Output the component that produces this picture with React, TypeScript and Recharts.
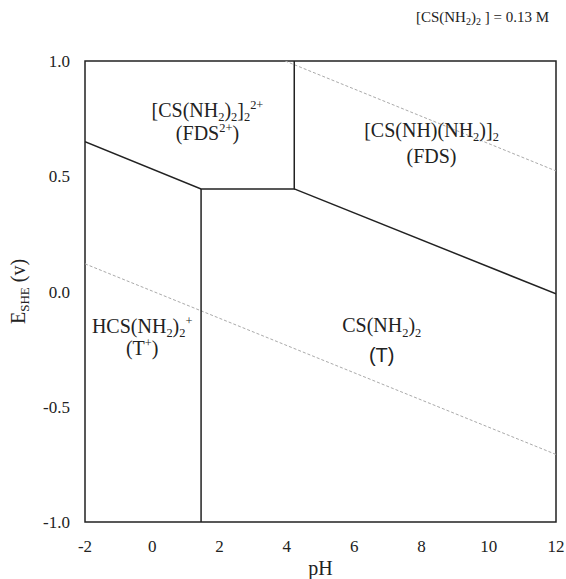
import React from "react";
import {
    LineChart,
    Line,
    XAxis,
    YAxis,
    ReferenceArea,
    ReferenceDot,
} from "recharts";

// Pourbaix (E-pH) diagram of thiourea, [CS(NH2)2] = 0.13 M

const PH_TICKS = [-2, 0, 2, 4, 6, 8, 10, 12];
const E_TICKS = [-1.0, -0.5, 0.0, 0.5, 1.0];

// solid boundaries (pH, E)
const FDS2_UPPER = [
    { x: -2, y: 0.65 },
    { x: 1.45, y: 0.445 },
    { x: 4.22, y: 0.445 },
    { x: 4.22, y: 1.0 },
];
const T_PLUS_T = [
    { x: 1.45, y: 0.445 },
    { x: 1.45, y: -1.0 },
];
const FDS_T = [
    { x: 4.22, y: 0.445 },
    { x: 12, y: -0.01 },
];

// water stability lines (dotted)
const O2_LINE = [
    { x: 3.95, y: 1.0 },
    { x: 12, y: 0.523 },
];
const H2_LINE = [
    { x: -2, y: 0.12 },
    { x: 12, y: -0.707 },
];

type Part = [string, "n" | "sub" | "sup"];

// region labels: anchor in pH / E (baseline of each line)
const REGION_LABELS: { x: number; y: number; parts: Part[]; sans?: boolean }[] = [
    { x: 1.64, y: 0.757, parts: [["[CS(NH", "n"], ["2", "sub"], [")", "n"], ["2", "sub"], ["]", "n"], ["2", "sub"], ["2+", "sup"]] },
    { x: 1.64, y: 0.656, parts: [["(FDS", "n"], ["2+", "sup"], [")", "n"]] },
    { x: 8.3, y: 0.67, parts: [["[CS(NH)(NH", "n"], ["2", "sub"], [")]", "n"], ["2", "sub"]] },
    { x: 8.3, y: 0.556, parts: [["(FDS)", "n"]] },
    { x: -0.3, y: -0.18, parts: [["HCS(NH", "n"], ["2", "sub"], [")", "n"], ["2", "sub"], ["+", "sup"]] },
    { x: -0.3, y: -0.277, parts: [["(T", "n"], ["+", "sup"], [")", "n"]] },
    { x: 6.82, y: -0.177, parts: [["CS(NH", "n"], ["2", "sub"], [")", "n"], ["2", "sub"]] },
    { x: 6.82, y: -0.306, parts: [["(T)", "n"]], sans: true },
];

const SERIF = "'Liberation Serif', 'Times New Roman', serif";
const SANS = "'Liberation Sans', Arial, sans-serif";
const INK = "#222";

function ChemText({ cx, cy, parts, fontSize, sans }: any) {
    let offset = 0;
    const family = sans ? SANS : SERIF;
    return (
        <text
            x={cx}
            y={cy}
            textAnchor="middle"
            fontFamily={family}
            style={{ fontFamily: family }}
            fontSize={fontSize}
            fill={INK}
        >
            {parts.map(([t, kind]: Part, i: number) => {
                const target = kind === "sub" ? fontSize * 0.22 : kind === "sup" ? -fontSize * 0.42 : 0;
                const dy = target - offset;
                offset = target;
                return (
                    <tspan key={i} dy={dy} fontSize={kind === "n" ? fontSize : fontSize * 0.62}>
                        {t}
                    </tspan>
                );
            })}
        </text>
    );
}

function PhTitle(props: any) {
    const vb = props.viewBox || {};
    return (
        <text
            x={vb.x + vb.width / 2}
            y={575}
            textAnchor="middle"
            style={{ fontFamily: SERIF }}
            fontSize={20}
            fill={INK}
        >
            pH
        </text>
    );
}

function ETitle(props: any) {
    const vb = props.viewBox || {};
    const cy = vb.y + vb.height / 2;
    return (
        <text
            x={25}
            y={cy}
            transform={`rotate(-90, 25, ${cy})`}
            textAnchor="middle"
            style={{ fontFamily: SERIF }}
            fontSize={20}
            fill={INK}
        >
            <tspan>E</tspan>
            <tspan fontSize={13} dy={4}>SHE</tspan>
            <tspan dy={-4}> (v)</tspan>
        </text>
    );
}

export default function App() {
    return (
        <div style={{ position: "absolute", left: 0, top: 0, width: 566, height: 579, background: "#fff", fontFamily: SERIF }}>
            <div
                style={{
                    position: "absolute",
                    right: 17,
                    top: 9,
                    fontFamily: SERIF,
                    fontSize: 15,
                    lineHeight: "16px",
                    color: INK,
                    whiteSpace: "nowrap",
                }}
            >
                [CS(NH<span style={{ fontSize: 10, position: "relative", top: 3 }}>2</span>)
                <span style={{ fontSize: 10, position: "relative", top: 3 }}>2</span> ] = 0.13 M
            </div>
            <LineChart
                width={566}
                height={579}
                margin={{ top: 61, right: 10, left: 0, bottom: 0 }}
                style={{ fontFamily: SERIF }}
            >
                <XAxis
                    type="number"
                    dataKey="x"
                    domain={[-2, 12]}
                    ticks={PH_TICKS}
                    allowDataOverflow
                    axisLine={false}
                    tickLine={false}
                    tickSize={0}
                    tickMargin={18}
                    height={57}
                    tick={{ fill: INK, fontSize: 17, fontFamily: SERIF, style: { fontFamily: SERIF } }}
                    label={{ content: PhTitle }}
                />
                <YAxis
                    type="number"
                    dataKey="y"
                    domain={[-1, 1]}
                    ticks={E_TICKS}
                    allowDataOverflow
                    axisLine={false}
                    tickLine={false}
                    tickSize={0}
                    tickMargin={15}
                    width={85}
                    tickFormatter={(v: number) => v.toFixed(1)}
                    tick={{ fill: INK, fontSize: 17, fontFamily: SERIF, style: { fontFamily: SERIF } }}
                    label={{ content: ETitle }}
                />
                <ReferenceArea
                    x1={-2}
                    x2={12}
                    y1={-1}
                    y2={1}
                    fill="none"
                    fillOpacity={0}
                    stroke={INK}
                    strokeWidth={1.5}
                    ifOverflow="visible"
                />
                <Line data={O2_LINE} dataKey="y" stroke="#aaa" strokeWidth={1} strokeDasharray="3 2" dot={false} activeDot={false} isAnimationActive={false} />
                <Line data={H2_LINE} dataKey="y" stroke="#aaa" strokeWidth={1} strokeDasharray="3 2" dot={false} activeDot={false} isAnimationActive={false} />
                <Line data={FDS2_UPPER} dataKey="y" stroke={INK} strokeWidth={1.5} dot={false} activeDot={false} isAnimationActive={false} />
                <Line data={T_PLUS_T} dataKey="y" stroke={INK} strokeWidth={1.5} dot={false} activeDot={false} isAnimationActive={false} />
                <Line data={FDS_T} dataKey="y" stroke={INK} strokeWidth={1.5} dot={false} activeDot={false} isAnimationActive={false} />
                {REGION_LABELS.map((l, i) => (
                    <ReferenceDot
                        key={i}
                        x={l.x}
                        y={l.y}
                        r={0}
                        ifOverflow="visible"
                        shape={(p: any) => <ChemText cx={p.cx} cy={p.cy} parts={l.parts} fontSize={20} sans={l.sans} />}
                    />
                ))}
            </LineChart>
        </div>
    );
}
